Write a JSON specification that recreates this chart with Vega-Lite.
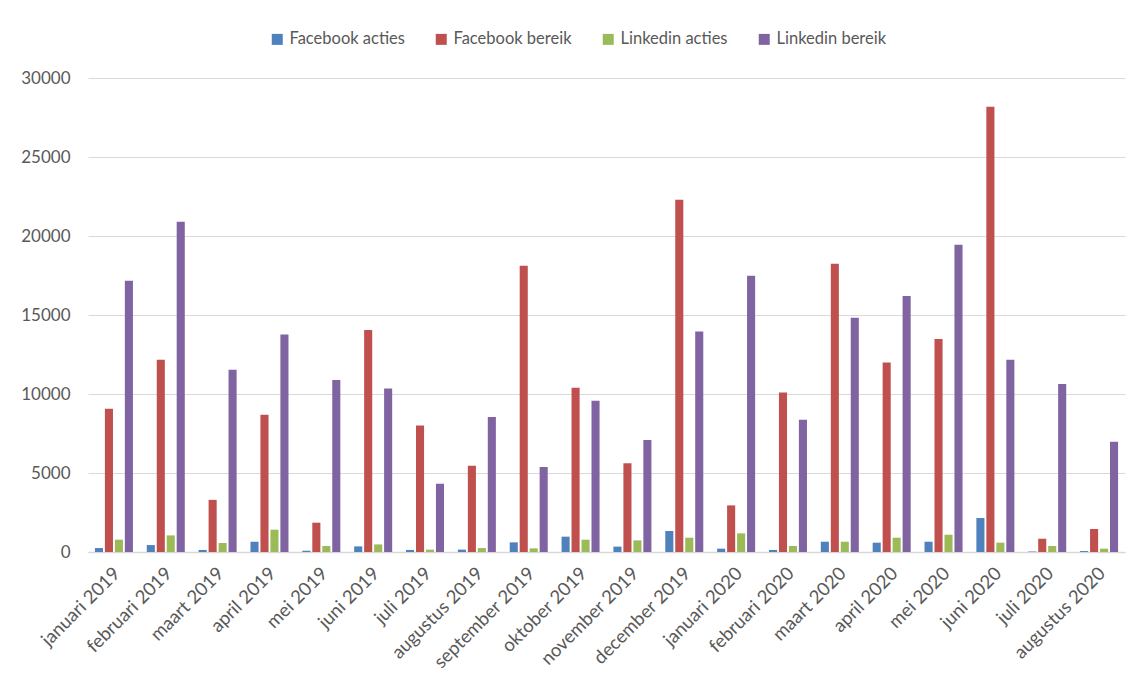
{
  "$schema": "https://vega.github.io/schema/vega-lite/v6.json",
  "width": 1037,
  "height": 474,
  "autosize": "none",
  "padding": {"left": 88, "top": 78, "right": 14, "bottom": 125},
  "background": "white",
  "config": {
    "font": "Lato",
    "view": {"stroke": null},
    "axis": {"labelFont": "Lato", "labelFontSize": 17, "labelColor": "#595959"},
    "legend": {"labelFont": "Lato"}
  },
  "data": {
    "values": [
      {"maand": "januari 2019", "reeks": "Facebook acties", "waarde": 250},
      {"maand": "januari 2019", "reeks": "Facebook bereik", "waarde": 9070},
      {"maand": "januari 2019", "reeks": "Linkedin acties", "waarde": 780},
      {"maand": "januari 2019", "reeks": "Linkedin bereik", "waarde": 17170},
      {"maand": "februari 2019", "reeks": "Facebook acties", "waarde": 440},
      {"maand": "februari 2019", "reeks": "Facebook bereik", "waarde": 12170},
      {"maand": "februari 2019", "reeks": "Linkedin acties", "waarde": 1050},
      {"maand": "februari 2019", "reeks": "Linkedin bereik", "waarde": 20900},
      {"maand": "maart 2019", "reeks": "Facebook acties", "waarde": 130},
      {"maand": "maart 2019", "reeks": "Facebook bereik", "waarde": 3300},
      {"maand": "maart 2019", "reeks": "Linkedin acties", "waarde": 570},
      {"maand": "maart 2019", "reeks": "Linkedin bereik", "waarde": 11540},
      {"maand": "april 2019", "reeks": "Facebook acties", "waarde": 650},
      {"maand": "april 2019", "reeks": "Facebook bereik", "waarde": 8690},
      {"maand": "april 2019", "reeks": "Linkedin acties", "waarde": 1410},
      {"maand": "april 2019", "reeks": "Linkedin bereik", "waarde": 13770},
      {"maand": "mei 2019", "reeks": "Facebook acties", "waarde": 80},
      {"maand": "mei 2019", "reeks": "Facebook bereik", "waarde": 1855},
      {"maand": "mei 2019", "reeks": "Linkedin acties", "waarde": 380},
      {"maand": "mei 2019", "reeks": "Linkedin bereik", "waarde": 10890},
      {"maand": "juni 2019", "reeks": "Facebook acties", "waarde": 355},
      {"maand": "juni 2019", "reeks": "Facebook bereik", "waarde": 14050},
      {"maand": "juni 2019", "reeks": "Linkedin acties", "waarde": 480},
      {"maand": "juni 2019", "reeks": "Linkedin bereik", "waarde": 10350},
      {"maand": "juli 2019", "reeks": "Facebook acties", "waarde": 130},
      {"maand": "juli 2019", "reeks": "Facebook bereik", "waarde": 8010},
      {"maand": "juli 2019", "reeks": "Linkedin acties", "waarde": 150},
      {"maand": "juli 2019", "reeks": "Linkedin bereik", "waarde": 4320},
      {"maand": "augustus 2019", "reeks": "Facebook acties", "waarde": 150},
      {"maand": "augustus 2019", "reeks": "Facebook bereik", "waarde": 5460},
      {"maand": "augustus 2019", "reeks": "Linkedin acties", "waarde": 250},
      {"maand": "augustus 2019", "reeks": "Linkedin bereik", "waarde": 8545},
      {"maand": "september 2019", "reeks": "Facebook acties", "waarde": 610},
      {"maand": "september 2019", "reeks": "Facebook bereik", "waarde": 18120},
      {"maand": "september 2019", "reeks": "Linkedin acties", "waarde": 230},
      {"maand": "september 2019", "reeks": "Linkedin bereik", "waarde": 5380},
      {"maand": "oktober 2019", "reeks": "Facebook acties", "waarde": 970},
      {"maand": "oktober 2019", "reeks": "Facebook bereik", "waarde": 10400},
      {"maand": "oktober 2019", "reeks": "Linkedin acties", "waarde": 780},
      {"maand": "oktober 2019", "reeks": "Linkedin bereik", "waarde": 9575},
      {"maand": "november 2019", "reeks": "Facebook acties", "waarde": 340},
      {"maand": "november 2019", "reeks": "Facebook bereik", "waarde": 5610},
      {"maand": "november 2019", "reeks": "Linkedin acties", "waarde": 735},
      {"maand": "november 2019", "reeks": "Linkedin bereik", "waarde": 7090},
      {"maand": "december 2019", "reeks": "Facebook acties", "waarde": 1330},
      {"maand": "december 2019", "reeks": "Facebook bereik", "waarde": 22300},
      {"maand": "december 2019", "reeks": "Linkedin acties", "waarde": 905},
      {"maand": "december 2019", "reeks": "Linkedin bereik", "waarde": 13960},
      {"maand": "januari 2020", "reeks": "Facebook acties", "waarde": 210},
      {"maand": "januari 2020", "reeks": "Facebook bereik", "waarde": 2950},
      {"maand": "januari 2020", "reeks": "Linkedin acties", "waarde": 1180},
      {"maand": "januari 2020", "reeks": "Linkedin bereik", "waarde": 17490},
      {"maand": "februari 2020", "reeks": "Facebook acties", "waarde": 130},
      {"maand": "februari 2020", "reeks": "Facebook bereik", "waarde": 10090},
      {"maand": "februari 2020", "reeks": "Linkedin acties", "waarde": 380},
      {"maand": "februari 2020", "reeks": "Linkedin bereik", "waarde": 8375},
      {"maand": "maart 2020", "reeks": "Facebook acties", "waarde": 650},
      {"maand": "maart 2020", "reeks": "Facebook bereik", "waarde": 18250},
      {"maand": "maart 2020", "reeks": "Linkedin acties", "waarde": 650},
      {"maand": "maart 2020", "reeks": "Linkedin bereik", "waarde": 14830},
      {"maand": "april 2020", "reeks": "Facebook acties", "waarde": 590},
      {"maand": "april 2020", "reeks": "Facebook bereik", "waarde": 12000},
      {"maand": "april 2020", "reeks": "Linkedin acties", "waarde": 905},
      {"maand": "april 2020", "reeks": "Linkedin bereik", "waarde": 16200},
      {"maand": "mei 2020", "reeks": "Facebook acties", "waarde": 650},
      {"maand": "mei 2020", "reeks": "Facebook bereik", "waarde": 13480},
      {"maand": "mei 2020", "reeks": "Linkedin acties", "waarde": 1095},
      {"maand": "mei 2020", "reeks": "Linkedin bereik", "waarde": 19450},
      {"maand": "juni 2020", "reeks": "Facebook acties", "waarde": 2150},
      {"maand": "juni 2020", "reeks": "Facebook bereik", "waarde": 28180},
      {"maand": "juni 2020", "reeks": "Linkedin acties", "waarde": 590},
      {"maand": "juni 2020", "reeks": "Linkedin bereik", "waarde": 12170},
      {"maand": "juli 2020", "reeks": "Facebook acties", "waarde": 30},
      {"maand": "juli 2020", "reeks": "Facebook bereik", "waarde": 840},
      {"maand": "juli 2020", "reeks": "Linkedin acties", "waarde": 380},
      {"maand": "juli 2020", "reeks": "Linkedin bereik", "waarde": 10630},
      {"maand": "augustus 2020", "reeks": "Facebook acties", "waarde": 60},
      {"maand": "augustus 2020", "reeks": "Facebook bereik", "waarde": 1455},
      {"maand": "augustus 2020", "reeks": "Linkedin acties", "waarde": 210},
      {"maand": "augustus 2020", "reeks": "Linkedin bereik", "waarde": 6980}
    ]
  },
  "mark": {"type": "bar"},
  "encoding": {
    "x": {
      "field": "maand",
      "type": "nominal",
      "sort": null,
      "scale": {"paddingInner": 0.267, "paddingOuter": 0.1335},
      "axis": {
        "title": null,
        "labelAngle": -45,
        "labelAlign": "right",
        "labelBaseline": "middle",
        "labelPadding": 18,
        "labelOffset": 3,
        "labelFontSize": 18.5,
        "ticks": false,
        "domainColor": "#D9D9D9",
        "domainWidth": 1.5,
        "grid": false
      }
    },
    "xOffset": {
      "field": "reeks",
      "type": "nominal",
      "scale": {"paddingInner": 0.19, "paddingOuter": 0.0}
    },
    "y": {
      "field": "waarde",
      "type": "quantitative",
      "scale": {"domain": [0, 30000], "nice": false},
      "axis": {
        "title": null,
        "values": [0, 5000, 10000, 15000, 20000, 25000, 30000],
        "format": "d",
        "domain": false,
        "ticks": false,
        "grid": true,
        "gridColor": "#D9D9D9",
        "gridWidth": 1,
        "labelPadding": 18
      }
    },
    "color": {
      "field": "reeks",
      "type": "nominal",
      "scale": {
        "domain": ["Facebook acties", "Facebook bereik", "Linkedin acties", "Linkedin bereik"],
        "range": ["#4F81BD", "#C0504D", "#9BBB59", "#8064A2"]
      },
      "legend": {
        "title": null,
        "orient": "none",
        "legendX": 181,
        "legendY": -47,
        "direction": "horizontal",
        "symbolType": "square",
        "symbolSize": 121,
        "symbolStrokeWidth": 0,
        "labelFontSize": 16.5,
        "labelColor": "#595959",
        "labelOffset": 4,
        "columnPadding": 28
      }
    }
  }
}
